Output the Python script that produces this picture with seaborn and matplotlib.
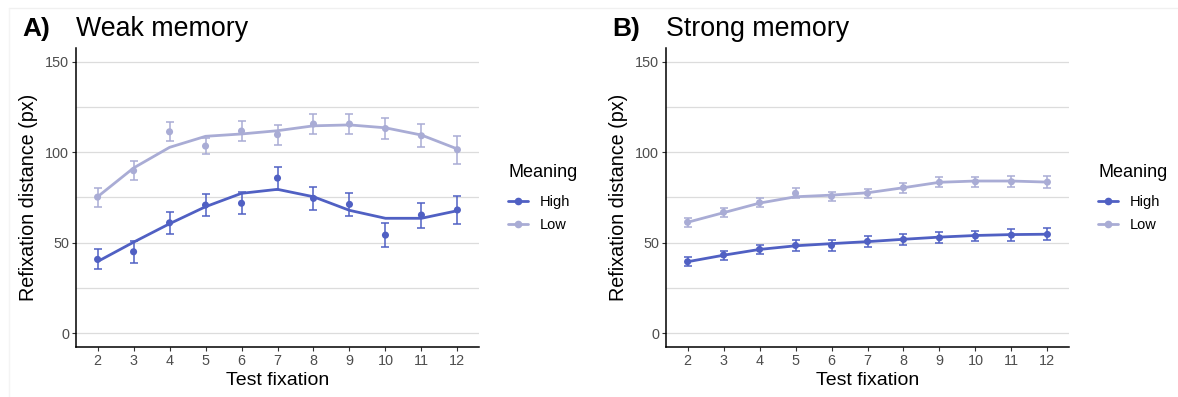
import matplotlib
matplotlib.use("Agg")
import matplotlib.pyplot as plt
import pandas as pd
import seaborn as sns
from matplotlib.lines import Line2D

# Test fixation index (x axis)
fixations = [2, 3, 4, 5, 6, 7, 8, 9, 10, 11, 12]
meaning_levels = ["High", "Low"]

# Weak memory: observed means, standard errors and model fit
weak_high_mean = [40.7, 44.9, 60.9, 70.7, 71.7, 85.6, 74.4, 71.1, 54.1, 65.2, 68.0]
weak_high_se = [5.5, 6.0, 6.2, 6.2, 6.0, 6.3, 6.3, 6.4, 6.6, 6.9, 7.5]
weak_high_fit = [39.5, 50.2, 60.4, 69.8, 77.2, 79.4, 75.3, 67.8, 63.4, 63.4, 67.6]

weak_low_mean = [75.1, 89.7, 111.2, 103.3, 111.6, 109.6, 115.5, 115.5, 113.0, 109.0, 101.3]
weak_low_se = [5.2, 5.4, 5.3, 4.4, 5.4, 5.5, 5.7, 5.7, 6.0, 6.4, 7.7]
weak_low_fit = [75.3, 91.2, 102.6, 108.7, 110.0, 111.8, 114.5, 115.0, 113.4, 109.4, 101.7]

# Strong memory: observed means, standard errors and model fit
strong_high_mean = [39.4, 43.1, 46.2, 48.4, 48.4, 50.6, 51.7, 52.6, 53.6, 54.1, 54.5]
strong_high_se = [2.4, 2.5, 2.7, 2.8, 2.9, 2.9, 2.9, 3.0, 3.0, 3.2, 3.3]
strong_high_fit = [39.4, 43.0, 46.2, 48.2, 49.4, 50.5, 51.8, 53.0, 53.9, 54.4, 54.6]

strong_low_mean = [61.2, 66.7, 72.0, 77.2, 75.5, 77.2, 80.3, 83.3, 83.6, 83.6, 83.4]
strong_low_se = [2.5, 2.5, 2.5, 2.8, 2.7, 2.6, 2.7, 2.8, 2.8, 2.9, 3.2]
strong_low_fit = [61.2, 66.5, 71.8, 75.3, 76.2, 77.5, 80.3, 83.3, 84.0, 84.0, 83.4]

panel_tags = ["A)", "B)"]
panel_titles = ["Weak memory", "Strong memory"]
x_label = "Test fixation"
y_label = "Refixation distance (px)"
legend_title = "Meaning"
y_ticks = [0, 50, 100, 150]

palette = {"High": "#5060C3", "Low": "#A9ACD5"}


def panel_frame(high_mean, high_se, high_fit, low_mean, low_se, low_fit):
    rows = []
    for level, mean, se, fit in (("High", high_mean, high_se, high_fit),
                                 ("Low", low_mean, low_se, low_fit)):
        for fx, m, s, f in zip(fixations, mean, se, fit):
            rows.append({"fixation": fx, "meaning": level,
                         "mean": m, "se": s, "fit": f})
    return pd.DataFrame(rows)


panels = [
    panel_frame(weak_high_mean, weak_high_se, weak_high_fit,
                weak_low_mean, weak_low_se, weak_low_fit),
    panel_frame(strong_high_mean, strong_high_se, strong_high_fit,
                strong_low_mean, strong_low_se, strong_low_fit),
]

sns.set_theme(style="white")
plt.rcParams["font.family"] = ["Liberation Sans", "DejaVu Sans"]
plt.rcParams["text.color"] = "black"
plt.rcParams["axes.labelcolor"] = "black"

W, H = 1178, 397
fig = plt.figure(figsize=(W / 100, H / 100), dpi=100)

ax_left_px = [76, 666]
legend_left_px = [508, 1098]
tag_left_px = [22, 612]
ax_w_px = 403
ax_top_px, ax_bot_px = 48, 346.6

for i, df in enumerate(panels):
    ax = fig.add_axes([ax_left_px[i] / W, 1 - ax_bot_px / H,
                       ax_w_px / W, (ax_bot_px - ax_top_px) / H])

    # error bars (mean +/- SE)
    for level in meaning_levels:
        sub = df[df["meaning"] == level]
        ax.errorbar(sub["fixation"], sub["mean"], yerr=sub["se"], fmt="none",
                    ecolor=palette[level], elinewidth=1.1, capsize=3.2,
                    capthick=1.1, zorder=3)

    sns.scatterplot(data=df, x="fixation", y="mean", hue="meaning",
                    hue_order=meaning_levels, palette=palette, s=26,
                    edgecolor="none", legend=False, ax=ax, zorder=4)
    sns.lineplot(data=df, x="fixation", y="fit", hue="meaning",
                 hue_order=meaning_levels, palette=palette, linewidth=2.0,
                 legend=False, ax=ax, zorder=5)

    ax.set_xlim(1.4, 12.6)
    ax.set_ylim(-7.5, 157.5)
    ax.set_xticks(fixations)
    ax.set_xticklabels([str(f) for f in fixations])
    ax.set_yticks(y_ticks)
    ax.set_yticks([25, 75, 125], minor=True)
    ax.grid(axis="y", which="both", color="#DCDCDC", linewidth=0.9)
    ax.grid(axis="x", visible=False)
    ax.set_axisbelow(True)

    for side in ("top", "right"):
        ax.spines[side].set_visible(False)
    for side in ("left", "bottom"):
        ax.spines[side].set_color("black")
        ax.spines[side].set_linewidth(1.1)

    ax.tick_params(axis="both", which="major", length=3, width=0.8,
                   color="#333333", labelsize=10.4, labelcolor="#4D4D4D",
                   pad=2, left=True, bottom=True)
    ax.tick_params(axis="y", which="minor", length=0)

    ax.set_xlabel(x_label, fontsize=14, color="black")
    ax.set_ylabel(y_label, fontsize=14.2, color="black")
    ax.xaxis.set_label_coords(0.5, -0.085)
    ax.yaxis.set_label_coords(-0.094, 0.5)

    fig.text(tag_left_px[i] / W, 1 - 36 / H, panel_tags[i], fontsize=19,
             fontweight="bold", va="baseline", ha="left", color="black")
    fig.text(ax_left_px[i] / W, 1 - 36 / H, panel_titles[i], fontsize=19.3,
             va="baseline", ha="left", color="black")

    # legend: title drawn as text, keys below it
    fig.text(legend_left_px[i] / W, 1 - 177 / H, legend_title, fontsize=13,
             va="baseline", ha="left", color="black")
    handles = [Line2D([0], [0], color=palette[l], lw=2.0, marker="o",
                      markersize=4.5) for l in meaning_levels]
    leg = ax.legend(handles, meaning_levels, loc="center left",
                    bbox_to_anchor=(legend_left_px[i] / W, 1 - 213.5 / H),
                    bbox_transform=fig.transFigure, frameon=False,
                    fontsize=10.5, handlelength=1.4, handletextpad=0.8,
                    labelspacing=0.62, borderpad=0, borderaxespad=0)
    for t in leg.get_texts():
        t.set_color("black")

# faint outer frame edge
fig.add_artist(Line2D([9 / W, 1], [1 - 8 / H, 1 - 8 / H], color="#F0F0F0",
                      lw=1, transform=fig.transFigure))
fig.add_artist(Line2D([9 / W, 9 / W], [0, 1 - 8 / H], color="#F4F4F4",
                      lw=1, transform=fig.transFigure))

fig.savefig("out.png", dpi=100, facecolor="white")
